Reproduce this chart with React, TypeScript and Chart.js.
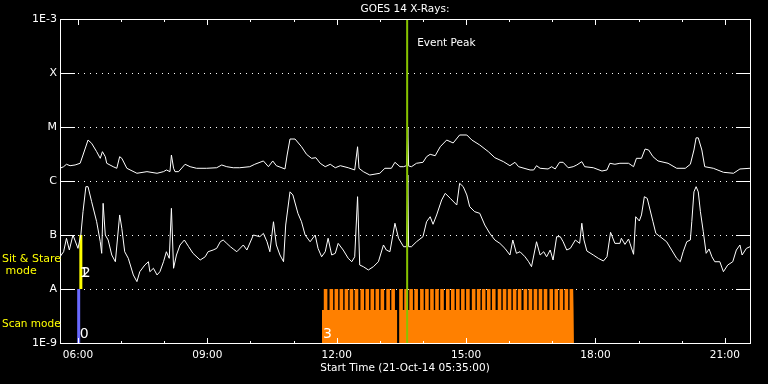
import React, { useEffect, useRef } from "react";
import { Chart, registerables } from "chart.js";

Chart.register(...registerables);

// ---------- text ----------
const TITLE = "GOES 14 X-Rays:";
const X_TITLE = "Start Time (21-Oct-14 05:35:00)";
const EVENT_LABEL = "Event Peak";
const SIT_LABEL = ["Sit & Stare", " mode"];
const SCAN_LABEL = "Scan mode";

// ---------- axes (time in minutes of the day) ----------
const X_MIN = 335; // 05:35
const X_MAX = 1295; // 21:35
const X_LABEL_TICKS = [360, 540, 720, 900, 1080, 1260];
const X_MINOR_STEP = 60;
const Y_LEVELS = [1e-9, 1e-8, 1e-7, 1e-6, 1e-5, 1e-4, 1e-3];
const Y_LABELS = ["1E-9", "A", "B", "C", "M", "X", "1E-3"];

// ---------- GOES long channel (upper curve) ----------
const LONG_T = [
  335, 340, 344, 349, 356, 363, 367, 374, 379, 386, 391, 394, 398, 400, 409, 414, 418, 421, 428, 442,
  456, 470, 479, 483, 488, 490, 493, 495, 500, 509, 516, 525, 539, 553, 560, 567, 576, 585, 599, 606,
  618, 625, 631, 636, 648, 651, 655, 662, 671, 678, 685, 691, 697, 704, 711, 718, 725, 736, 745, 749,
  751, 757, 766, 780, 787, 796, 801, 808, 813, 817, 819, 820, 824, 831, 840, 845, 850, 857, 864, 873,
  882, 891, 901, 908, 919, 931, 940, 952, 961, 968, 973, 989, 994, 998, 1003, 1014, 1019, 1024, 1030, 1035,
  1042, 1049, 1054, 1061, 1065, 1077, 1089, 1096, 1100, 1107, 1114, 1126, 1133, 1137, 1144, 1149, 1154, 1160, 1167, 1181,
  1193, 1205, 1212, 1217, 1220, 1223, 1228, 1232, 1244, 1258, 1272, 1281, 1295,
];
const LONG_F = [
  1.72e-6, 1.84e-6, 2.04e-6, 1.92e-6, 1.98e-6, 2.13e-6, 3.03e-6, 5.74e-6, 4.99e-6, 3.49e-6, 2.63e-6, 3.49e-6, 2.82e-6, 2.13e-6, 1.84e-6, 1.72e-6, 2.82e-6, 2.63e-6, 1.72e-6, 1.39e-6,
  1.49e-6, 1.39e-6, 1.49e-6, 1.6e-6, 1.49e-6, 3.03e-6, 1.72e-6, 1.49e-6, 1.49e-6, 2.04e-6, 1.84e-6, 1.72e-6, 1.72e-6, 1.76e-6, 1.98e-6, 1.84e-6, 1.76e-6, 1.76e-6, 1.84e-6, 2.04e-6,
  2.35e-6, 1.84e-6, 2.35e-6, 1.92e-6, 1.67e-6, 3.03e-6, 5.99e-6, 5.99e-6, 4.31e-6, 3.12e-6, 2.63e-6, 2.7e-6, 2.13e-6, 1.84e-6, 2.04e-6, 1.76e-6, 1.92e-6, 1.76e-6, 1.6e-6, 4.31e-6,
  1.72e-6, 1.49e-6, 1.29e-6, 1.39e-6, 1.72e-6, 1.72e-6, 2.22e-6, 1.84e-6, 1.84e-6, 1.92e-6, 1.0e-5, 1.9e-6, 1.84e-6, 2.13e-6, 2.22e-6, 2.82e-6, 3.12e-6, 2.94e-6, 4.31e-6, 5.74e-6,
  5.06e-6, 7.11e-6, 7.11e-6, 5.74e-6, 4.64e-6, 3.49e-6, 2.7e-6, 2.28e-6, 1.92e-6, 2.22e-6, 1.84e-6, 1.6e-6, 1.6e-6, 1.92e-6, 1.72e-6, 1.67e-6, 1.84e-6, 1.67e-6, 2.22e-6, 2.22e-6,
  1.76e-6, 1.84e-6, 1.98e-6, 2.28e-6, 1.84e-6, 1.76e-6, 1.53e-6, 1.6e-6, 2.13e-6, 2.04e-6, 2.13e-6, 2.13e-6, 1.84e-6, 2.63e-6, 2.63e-6, 3.91e-6, 3.75e-6, 2.82e-6, 2.35e-6, 2.13e-6,
  1.72e-6, 1.72e-6, 2.04e-6, 3.75e-6, 6.3e-6, 6.3e-6, 3.75e-6, 1.84e-6, 1.72e-6, 1.45e-6, 1.39e-6, 1.67e-6, 1.72e-6,
];

// ---------- GOES short channel (lower curve) ----------
const SHORT_T = [
  335, 340, 344, 348, 353, 360, 364, 367, 371, 374, 379, 386, 391, 393, 395, 398, 402, 407, 412, 418,
  421, 425, 430, 437, 442, 446, 453, 458, 460, 465, 470, 474, 479, 483, 487, 490, 493, 497, 502, 508,
  514, 520, 530, 537, 541, 548, 553, 558, 562, 567, 572, 576, 581, 590, 595, 604, 613, 618, 623, 627,
  632, 636, 641, 646, 649, 655, 659, 666, 671, 676, 683, 690, 694, 699, 704, 708, 713, 718, 722, 729,
  736, 741, 745, 749, 752, 757, 764, 771, 778, 785, 789, 794, 801, 806, 813, 817, 819, 820, 824, 831,
  840, 845, 850, 854, 859, 866, 871, 878, 887, 891, 896, 901, 905, 912, 919, 926, 933, 940, 947, 954,
  961, 965, 970, 975, 982, 987, 991, 998, 1003, 1008, 1012, 1017, 1021, 1026, 1031, 1035, 1040, 1045, 1052, 1058,
  1061, 1064, 1068, 1077, 1084, 1091, 1096, 1101, 1107, 1114, 1116, 1121, 1126, 1128, 1133, 1136, 1141, 1144, 1148, 1152,
  1156, 1160, 1164, 1170, 1179, 1186, 1193, 1198, 1202, 1207, 1212, 1214, 1217, 1220, 1223, 1226, 1230, 1234, 1238, 1242,
  1246, 1253, 1258, 1264, 1271, 1276, 1281, 1284, 1290, 1295,
];
const SHORT_F = [
  3.95e-8, 4.9e-8, 8.7e-8, 5.27e-8, 1.0e-7, 5.66e-8, 1.0e-7, 2.7e-7, 7.85e-7, 7.85e-7, 4.14e-7, 1.76e-7, 7.5e-8, 4.58e-8, 3.86e-7, 1.0e-7, 8.08e-8, 4.26e-8, 3.2e-8, 2.35e-7,
  1.33e-7, 4.9e-8, 3.7e-8, 1.82e-8, 1.37e-8, 2.09e-8, 2.78e-8, 3.2e-8, 2.09e-8, 2.42e-8, 1.82e-8, 2.09e-8, 3.2e-8, 4.9e-8, 3.7e-8, 3.12e-7, 2.42e-8, 4.26e-8, 6.53e-8, 8.08e-8,
  6.07e-8, 4.58e-8, 3.44e-8, 3.95e-8, 4.9e-8, 5.27e-8, 5.66e-8, 7.5e-8, 8.08e-8, 7.0e-8, 6.07e-8, 5.51e-8, 4.9e-8, 6.53e-8, 5.27e-8, 1.0e-7, 9.3e-8, 1.07e-7, 7.5e-8, 4.9e-8,
  1.76e-7, 6.53e-8, 4.26e-8, 3.2e-8, 1.53e-7, 6.3e-7, 5.51e-7, 2.52e-7, 1.76e-7, 1.0e-7, 7.5e-8, 1.0e-7, 5.66e-8, 3.95e-8, 4.9e-8, 8.7e-8, 4.26e-8, 4.58e-8, 7.0e-8, 5.27e-8,
  3.7e-8, 3.2e-8, 3.95e-8, 5.12e-7, 2.78e-8, 2.59e-8, 2.25e-8, 2.59e-8, 3.2e-8, 6.53e-8, 5.27e-8, 4.9e-8, 1.65e-7, 8.7e-8, 6.07e-8, 6.07e-8, 1.29e-6, 6.07e-8, 6.07e-8, 7.5e-8,
  9.3e-8, 1.76e-7, 2.18e-7, 1.58e-7, 2.35e-7, 4.45e-7, 5.91e-7, 4.77e-7, 3.59e-7, 9.06e-7, 7.85e-7, 5.51e-7, 3.34e-7, 2.7e-7, 2.52e-7, 1.53e-7, 1.07e-7, 8.08e-8, 7.0e-8, 5.66e-8,
  4.26e-8, 8.08e-8, 4.58e-8, 4.9e-8, 3.95e-8, 3.2e-8, 2.59e-8, 7.5e-8, 4.26e-8, 4.9e-8, 3.95e-8, 5.27e-8, 3.44e-8, 9.3e-8, 9.3e-8, 7.5e-8, 5.27e-8, 5.66e-8, 8.08e-8, 7.0e-8,
  1.65e-7, 8.08e-8, 5.06e-8, 4.26e-8, 3.7e-8, 3.3e-8, 3.95e-8, 1.12e-7, 7.0e-8, 7.0e-8, 8.7e-8, 6.7e-8, 8.43e-8, 7.0e-8, 4.39e-8, 2.18e-7, 1.82e-7, 2.35e-7, 5.12e-7, 4.77e-7,
  2.9e-7, 1.76e-7, 1.07e-7, 9.3e-8, 7.5e-8, 5.27e-8, 3.7e-8, 3.2e-8, 4.9e-8, 7.5e-8, 8.08e-8, 1.76e-7, 6.3e-7, 7.85e-7, 6.3e-7, 2.7e-7, 1.15e-7, 4.58e-8, 5.51e-8, 3.95e-8,
  3.2e-8, 3.2e-8, 2.09e-8, 2.78e-8, 3.2e-8, 5.27e-8, 6.53e-8, 4.26e-8, 5.66e-8, 6.07e-8,
];

// ---------- event / observation markers ----------
const EVENT_PEAK_T = 818;
const SCAN_T = 361;
const SCAN_RANGE = [1e-9, 1e-8];
const SIT_T = 364;
const SIT_RANGE = [1e-8, 1e-7];
const OBS_BLOCKS = [
  [699.5, 804],
  [806.7, 1050],
];
const OBS_BASE = 4.1e-9;
const OBS_TOP = 1e-8;
const TOOTH_STARTS = [
  702, 710, 717, 724, 731, 738, 745, 753, 760, 767, 774, 781, 789, 796,
  807, 814, 821, 828, 836, 843, 850, 857, 864, 872, 879, 886, 893, 900, 908, 915, 922, 929, 936, 944,
  951, 958, 965, 972, 980, 987, 994, 1001, 1008, 1016, 1023, 1030, 1037, 1044,
];
const TOOTH_LEN = 5;
const OBS_NUMBERS = [
  { t: SCAN_T, y: 1e-9, text: "0", dy: -5 },
  { t: SIT_T, y: 1e-8, text: "2", dy: -12 },
  { t: OBS_BLOCKS[0][0], y: 1e-9, text: "3", dy: -5 },
];

const SANS = "'DejaVu Sans', 'Liberation Sans', sans-serif";
const ORANGE = "#ff8000";
const GREEN = "#88c400";

function hhmm(v: number) {
  const h = Math.floor(v / 60);
  const m = Math.round(v % 60);
  return `${String(h).padStart(2, "0")}:${String(m).padStart(2, "0")}`;
}

function buildObsPoints() {
  const pts: { x: number; y: number }[] = [];
  OBS_BLOCKS.forEach(([a, b]) => {
    pts.push({ x: a, y: 1e-9 }, { x: a, y: OBS_BASE });
    TOOTH_STARTS.filter((s) => s >= a && s + TOOTH_LEN <= b).forEach((s) => {
      pts.push(
        { x: s, y: OBS_BASE },
        { x: s, y: OBS_TOP },
        { x: s + TOOTH_LEN, y: OBS_TOP },
        { x: s + TOOTH_LEN, y: OBS_BASE }
      );
    });
    pts.push({ x: b, y: OBS_BASE }, { x: b, y: 1e-9 });
  });
  return pts;
}

const overlayPlugin = {
  id: "goesOverlay",
  beforeDatasetsDraw(chart: any) {
    const { ctx, chartArea: a, scales } = chart;
    const y = scales.y;
    ctx.save();
    ctx.strokeStyle = "#ffffff";
    ctx.lineWidth = 1;
    ctx.setLineDash([1, 5]);
    Y_LEVELS.slice(1, -1).forEach((v) => {
      const py = Math.round(y.getPixelForValue(v)) + 0.5;
      ctx.beginPath();
      ctx.moveTo(a.left + 18, py);
      ctx.lineTo(a.right - 14, py);
      ctx.stroke();
    });
    ctx.restore();
  },
  afterDatasetsDraw(chart: any) {
    const { ctx, chartArea: a, scales } = chart;
    const x = scales.x;
    const y = scales.y;
    ctx.save();
    // event peak line
    const ex = x.getPixelForValue(EVENT_PEAK_T);
    ctx.strokeStyle = GREEN;
    ctx.lineWidth = 2;
    ctx.beginPath();
    ctx.moveTo(ex, a.top);
    ctx.lineTo(ex, a.bottom);
    ctx.stroke();

    // frame
    ctx.strokeStyle = "#ffffff";
    ctx.lineWidth = 1;
    ctx.strokeRect(a.left + 0.5, a.top + 0.5, a.right - a.left, a.bottom - a.top);
    // y ticks inside
    Y_LEVELS.slice(1, -1).forEach((v) => {
      const py = Math.round(y.getPixelForValue(v)) + 0.5;
      ctx.beginPath();
      ctx.moveTo(a.left, py);
      ctx.lineTo(a.left + 15, py);
      ctx.moveTo(a.right - 14, py);
      ctx.lineTo(a.right + 1, py);
      ctx.stroke();
    });
    // x ticks top and bottom
    for (let t = X_LABEL_TICKS[0]; t <= X_MAX; t += X_MINOR_STEP) {
      const px = Math.round(x.getPixelForValue(t)) + 0.5;
      const len = X_LABEL_TICKS.includes(t) ? 6 : 3;
      ctx.beginPath();
      ctx.moveTo(px, a.top);
      ctx.lineTo(px, a.top + len);
      ctx.moveTo(px, a.bottom + 1);
      ctx.lineTo(px, a.bottom + 1 - len);
      ctx.stroke();
    }

    // texts
    ctx.fillStyle = "#ffffff";
    ctx.font = `10.5px ${SANS}`;
    ctx.textBaseline = "middle";
    ctx.textAlign = "center";
    ctx.fillText(TITLE, (a.left + a.right) / 2, 9);
    ctx.fillText(X_TITLE, (a.left + a.right) / 2, 368);
    ctx.textAlign = "left";
    ctx.fillText(EVENT_LABEL, ex + 10, 43);

    ctx.fillStyle = "#ffff00";
    ctx.font = `11px ${SANS}`;
    ctx.fillText(SIT_LABEL[0], 2, 259);
    ctx.fillText(SIT_LABEL[1], 2, 271);
    ctx.font = `10.5px ${SANS}`;
    ctx.fillText(SCAN_LABEL, 2, 324);

    ctx.fillStyle = "#ffffff";
    ctx.font = `14px ${SANS}`;
    ctx.textBaseline = "alphabetic";
    OBS_NUMBERS.forEach((n) => {
      const px = x.getPixelForValue(n.t);
      const py = y.getPixelForValue(n.y);
      ctx.fillText(n.text, px + 1, py + n.dy);
    });
    // overlapping mode-1 marker next to "2"
    ctx.fillText("1", x.getPixelForValue(SIT_T) - 1, y.getPixelForValue(SIT_RANGE[0]) - 12);
    ctx.restore();
  },
};

export default function App() {
  const ref = useRef<HTMLCanvasElement | null>(null);
  useEffect(() => {
    if (!ref.current) return;
    const longData = LONG_T.map((t, i) => ({ x: t, y: LONG_F[i] }));
    const shortData = SHORT_T.map((t, i) => ({ x: t, y: SHORT_F[i] }));
    const chart = new Chart(ref.current, {
      type: "line",
      data: {
        datasets: [
          { data: longData, borderColor: "#ffffff", borderWidth: 1, pointRadius: 0, tension: 0, fill: false },
          { data: shortData, borderColor: "#ffffff", borderWidth: 1, pointRadius: 0, tension: 0, fill: false },
          {
            data: [
              { x: SIT_T, y: SIT_RANGE[0] },
              { x: SIT_T, y: SIT_RANGE[1] },
            ],
            borderColor: "#ffff00",
            borderWidth: 3,
            pointRadius: 0,
            fill: false,
          },
          {
            data: [
              { x: SCAN_T, y: SCAN_RANGE[0] },
              { x: SCAN_T, y: SCAN_RANGE[1] },
            ],
            borderColor: "#6a6aff",
            borderWidth: 3,
            pointRadius: 0,
            fill: false,
          },
          {
            data: buildObsPoints(),
            borderColor: ORANGE,
            borderWidth: 0,
            backgroundColor: ORANGE,
            pointRadius: 0,
            tension: 0,
            fill: "start",
          },
        ],
      },
      options: {
        animation: false,
        responsive: false,
        devicePixelRatio: 1,
        layout: { padding: { top: 19, right: 18, left: 0, bottom: 0 } },
        plugins: { legend: { display: false }, tooltip: { enabled: false }, title: { display: false } },
        scales: {
          x: {
            type: "linear",
            min: X_MIN,
            max: X_MAX,
            grid: { display: false, drawTicks: false },
            border: { display: false },
            afterBuildTicks: (s: any) => {
              s.ticks = X_LABEL_TICKS.map((v) => ({ value: v }));
            },
            afterFit: (s: any) => {
              s.height = 41;
            },
            ticks: {
              autoSkip: false,
              maxRotation: 0,
              padding: 6,
              color: "#ffffff",
              font: { family: SANS, size: 10.5 },
              callback: (v: any) => hhmm(Number(v)),
            },
          },
          y: {
            type: "logarithmic",
            min: Y_LEVELS[0],
            max: Y_LEVELS[Y_LEVELS.length - 1],
            grid: { display: false, drawTicks: false },
            border: { display: false },
            afterBuildTicks: (s: any) => {
              s.ticks = Y_LEVELS.map((v) => ({ value: v }));
            },
            afterFit: (s: any) => {
              s.width = 60;
            },
            ticks: {
              autoSkip: false,
              padding: 3,
              color: "#ffffff",
              font: { family: SANS, size: 11 },
              callback: (_v: any, i: number) => Y_LABELS[i],
            },
          },
        },
      },
      plugins: [overlayPlugin],
    });
    return () => chart.destroy();
  }, []);

  return (
    <div style={{ position: "fixed", left: 0, top: 0, width: 768, height: 384, background: "#000" }}>
      <canvas ref={ref} width={768} height={384} />
    </div>
  );
}
